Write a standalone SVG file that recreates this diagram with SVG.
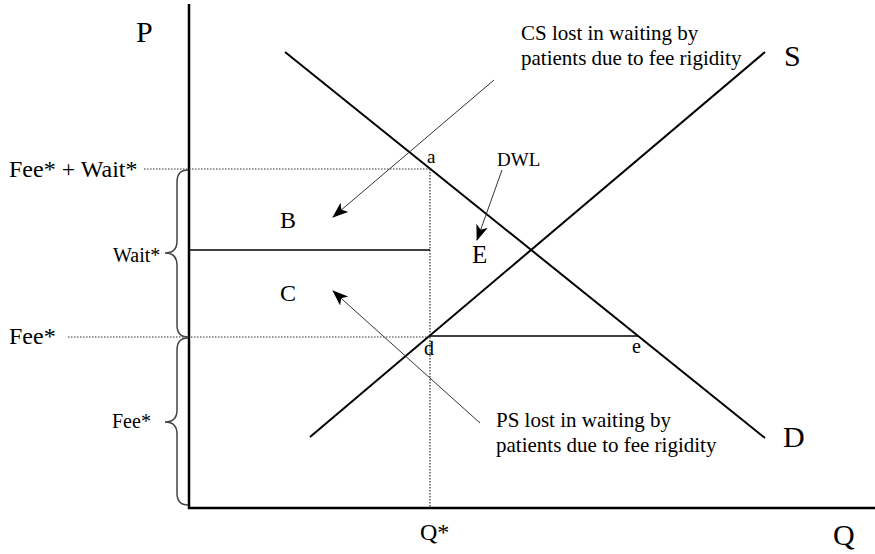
<svg xmlns="http://www.w3.org/2000/svg" width="875" height="554" viewBox="0 0 875 554">
<style>
text{font-family:"Liberation Serif","Times New Roman",serif;fill:#000}
.axis{stroke:#000;stroke-width:2.5;fill:none}
.curve{stroke:#000;stroke-width:2;fill:none}
.solid{stroke:#000;stroke-width:1.5;fill:none}
.dot{stroke:#333;stroke-width:1.2;stroke-dasharray:1.5 1.5;fill:none}
.brace{stroke:#444;stroke-width:1.5;fill:none}
.arr{stroke:#333;stroke-width:1;fill:none;marker-end:url(#ah)}
</style>
<defs>
<marker id="ah" markerUnits="userSpaceOnUse" markerWidth="18" markerHeight="14" refX="15" refY="6" orient="auto">
<path d="M0,0 L16,6 L0,12 L4,6 Z" fill="#000"/>
</marker>
</defs>
<rect width="875" height="554" fill="#fff"/>
<g id="axes">
<line class="axis" x1="189" y1="4" x2="189" y2="509"/>
<line class="axis" x1="188" y1="508" x2="875" y2="508"/>
<text x="136" y="42" font-size="30">P</text>
<text x="833" y="545" font-size="30">Q</text>
</g>
<g id="demand">
<line class="curve" x1="285" y1="52" x2="765" y2="438"/>
<text x="783" y="447" font-size="30">D</text>
</g>
<g id="supply">
<line class="curve" x1="310" y1="437" x2="765" y2="52"/>
<text x="784" y="66" font-size="30">S</text>
</g>
<g id="guides">
<line class="dot" x1="144" y1="169" x2="430" y2="169"/>
<line class="dot" x1="68" y1="337" x2="430" y2="337"/>
<line class="dot" x1="430" y1="169" x2="430" y2="508"/>
<line class="solid" x1="189" y1="250" x2="430" y2="250"/>
<line class="solid" x1="430" y1="336" x2="638" y2="336"/>
</g>
<g id="labels-left">
<text x="9" y="177" font-size="24">Fee* + Wait*</text>
<text x="113" y="262" font-size="20">Wait*</text>
<text x="9" y="344" font-size="24">Fee*</text>
<text x="112" y="428" font-size="20">Fee*</text>
<path class="brace" d="M188,170 Q177,170 177,182 L177,241 Q177,253 165,253 Q177,253 177,265 L177,325 Q177,337 188,337"/>
<path class="brace" d="M188,338 Q177,338 177,350 L177,410 Q177,422 165,422 Q177,422 177,434 L177,493 Q177,505 188,505"/>
</g>
<g id="points">
<text x="427" y="163" font-size="19">a</text>
<text x="424" y="355" font-size="20">d</text>
<text x="632" y="353" font-size="20">e</text>
<text x="420" y="540" font-size="24">Q*</text>
</g>
<g id="areas">
<text x="280" y="228" font-size="24">B</text>
<text x="280" y="301" font-size="24">C</text>
<text x="472" y="263" font-size="25">E</text>
<text x="497" y="166" font-size="19">DWL</text>
</g>
<g id="notes">
<text x="521" y="40" font-size="21">CS lost in waiting by</text>
<text x="521" y="65" font-size="21">patients due to fee rigidity</text>
<text x="496" y="427" font-size="21">PS lost in waiting by</text>
<text x="496" y="452" font-size="21">patients due to fee rigidity</text>
</g>
<g id="connectors">
<line class="arr" x1="494" y1="80" x2="333" y2="217"/>
<line class="arr" x1="502" y1="170" x2="477" y2="240"/>
<line class="arr" x1="480" y1="423" x2="333" y2="291"/>
</g>
</svg>
